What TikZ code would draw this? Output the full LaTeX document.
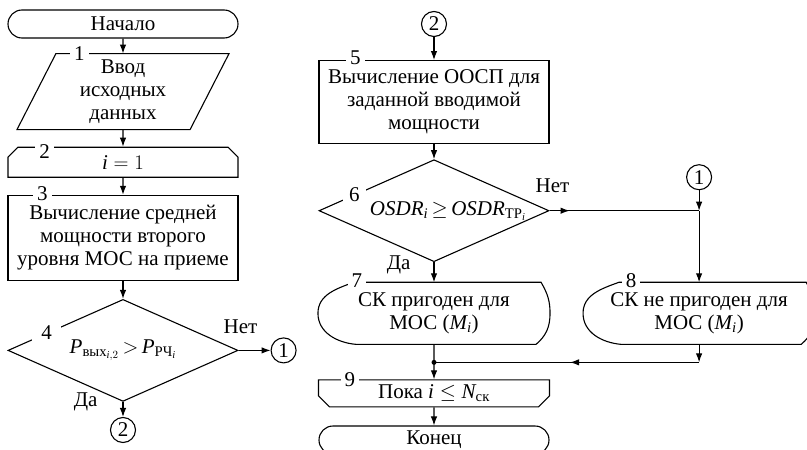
\documentclass[tikz,border=0pt]{standalone}
\usepackage{amsmath}
\usepackage{fontspec}
\setmainfont{Liberation Serif}
\usetikzlibrary{arrows.meta,calc,positioning,shapes.geometric,shapes.misc,decorations.markings}

\begin{document}
\begin{tikzpicture}[x=1pt,y=1pt,every path/.style={line width=1.1pt},>={Latex[length=9pt,width=6.5pt]},font=\fontsize{21}{23}\selectfont]
  \tikzset{
    term/.style={rounded rectangle,draw,minimum width=230pt,minimum height=28pt,inner sep=0pt},
    proc/.style={rectangle,draw,minimum width=230pt,align=center,inner sep=0pt},
    datain/.style={rectangle,minimum width=172pt,minimum height=75pt,align=center,inner sep=0pt},
    loopbeg/.style={chamfered rectangle,chamfered rectangle corners={north west,north east},chamfered rectangle xsep=8pt,draw,minimum width=230pt,minimum height=30pt,inner sep=0pt},
    loopend/.style={chamfered rectangle,chamfered rectangle corners={south west,south east},chamfered rectangle xsep=8pt,draw,minimum width=231pt,minimum height=27pt,inner sep=0pt},
    cond/.style={diamond,draw,aspect=2.25,minimum width=230pt,minimum height=102pt,inner sep=0pt},
    disp/.style={rectangle,minimum width=231pt,minimum height=61pt,align=center,inner sep=0pt},
    conn/.style={circle,draw,minimum size=25pt,inner sep=0pt},
    num/.style={fill=white,inner xsep=4pt,inner ysep=0pt},
    lbl/.style={inner sep=0pt},
    midarrow/.style={postaction={decorate},decoration={markings,mark=at position #1 with {\arrow{>}}}}
  }
  \useasboundingbox (0,0) rectangle (807,-450);
  % left column
  \node[term] (start) at (123,-24) {Начало};
  \node[datain,below=15pt of start] (in) {Ввод\\исходных\\данных};
  \node[loopbeg,below=17pt of in] (init) {$\mathit{i}=1$};
  \node[proc,below=17pt of init,minimum height=85pt] (pow) {Вычисление средней\\мощности второго\\уровня МОС на приеме};
  \node[cond,below=18pt of pow] (cmp) {$\mathit{P}_{\text{вых}_{\mathit{i},2}}\,{>}\,\mathit{P}_{\text{РЧ}_{\mathit{i}}}$};
  \node[conn,below=15pt of cmp] (c2a) {2};
  \node[conn,right=32pt of cmp] (c1a) {1};
  % right column
  \node[conn] (c2b) at (434,-24) {2};
  \node[proc,below=23pt of c2b,minimum height=83pt] (ossp) {Вычисление ООСП для\\заданной вводимой\\мощности};
  \node[cond,below=15pt of ossp] (chk) {\hspace{28pt}$\mathit{OSDR}_{\mathit{i}}\,{\geq}\,\mathit{OSDR}_{\text{ТР}_{\mathit{i}}}$};
  \node[disp,below=20pt of chk] (ok) {СК пригоден для\\МОС ($\mathit{M}_{\mathit{i}}$)};
  \node[disp,right=33pt of ok] (notok) {СК не пригоден для\\МОС ($\mathit{M}_{\mathit{i}}$)};
  \node[conn,above=92pt of notok] (c1b) {1};
  \coordinate (fork) at (c1b |- chk.east);
  \coordinate[below=18pt of ok] (join);
  \node[loopend,below=35pt of ok] (loop) {Пока $\mathit{i}\leq \mathit{N}_{\text{ск}}$};
  \node[term,below=18pt of loop] (stop) {Конец};

  % outlines
  \draw ($(in.north west)+(19.5,0)$) -- ($(in.north east)+(19.5,0)$) -- ($(in.south east)+(-19.5,0)$) -- ($(in.south west)+(-19.5,0)$) -- cycle;
  \foreach \b in {ok,notok}
    \draw ($(\b.north west)+(36,0)$) -- ($(\b.north east)+(-9,0)$) to[out=-60,in=90] (\b.east) to[out=-90,in=40] ($(\b.south east)+(-14,0)$) -- ($(\b.south west)+(38,0)$) to[out=175,in=-90] (\b.west) to[out=90,in=200] ($(\b.north west)+(36,0)$);

  % connectors
  \draw[->] (start) -- (in);
  \draw[->] (in) -- (init);
  \draw[->] (init) -- (pow);
  \draw[->] (pow) -- (cmp);
  \draw[->] (cmp) -- (c1a);
  \draw[->] (cmp) -- (c2a);
  \draw[->] (c2b) -- (ossp);
  \draw[->] (ossp) -- (chk);
  \draw[->] (chk) -- (ok);
  \draw[midarrow=20pt] (chk) -- (fork);
  \draw[->] (c1b) -- (fork);
  \draw[->] (fork) -- (notok);
  \draw[->] (ok) -- (loop);
  \fill (join) circle (2.5pt);
  \draw[->] (notok) -- (notok |- join);
  \draw[midarrow=129pt] (notok |- join) -- (join);
  \draw[->] (loop) -- (stop);

  % labels
  \node[lbl,above=16pt of cmp.east,xshift=2pt] (no4) {Нет};
  \node[lbl,left=25pt of cmp.south] (yes4) {Да};
  \node[lbl,above=17pt of chk.east,xshift=3pt] (no6) {Нет};
  \node[lbl,left=23pt of chk.south,yshift=-3pt] (yes6) {Да};
  \node[num] (n1) at ($(in.north west)+(43,0)$) {1};
  \node[num] (n2) at ($(init.north west)+(32,0)$) {2};
  \node[num] (n3) at ($(pow.north west)+(35,1)$) {3};
  \node[num,inner xsep=9pt,inner ysep=4pt] (n4) at ($(cmp.west)!0.34!(cmp.north)$) {4};
  \node[num] (n5) at ($(ossp.north west)+(37,2)$) {5};
  \node[num,inner xsep=6pt,inner ysep=4pt] (n6) at ($(chk.west)!0.31!(chk.north)$) {6};
  \node[num] (n7) at ($(ok.north west)+(39,2)$) {7};
  \node[num] (n8) at ($(notok.north west)+(48,2)$) {8};
  \node[num] (n9) at ($(loop.north west)+(32,0)$) {9};
\end{tikzpicture}
\end{document}
